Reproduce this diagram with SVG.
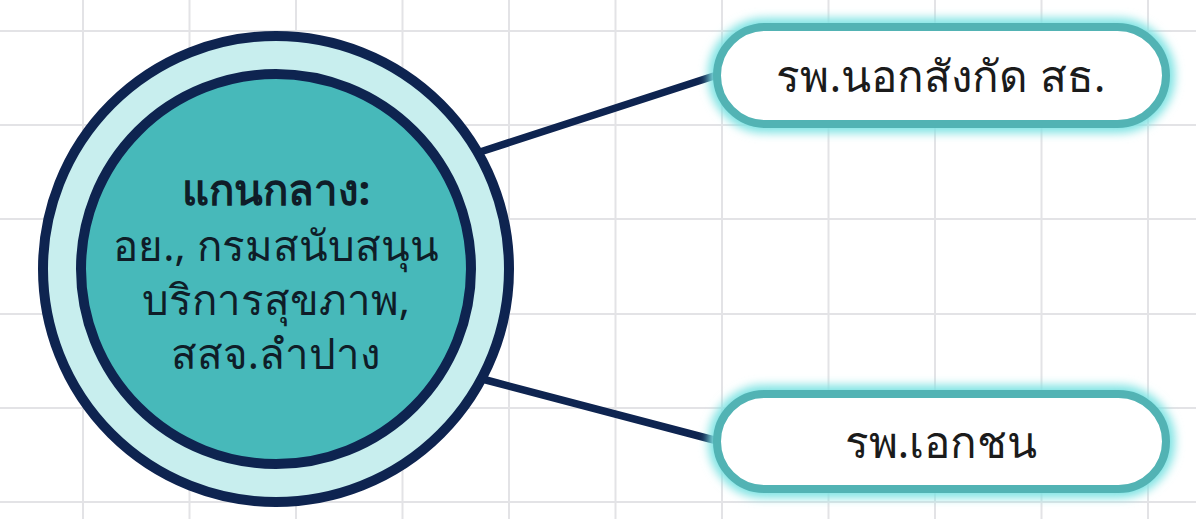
<svg xmlns="http://www.w3.org/2000/svg" width="1196" height="519" viewBox="0 0 1196 519">
  <defs>
    <style>
      .grid line { stroke: #e3e3e6; stroke-width: 2; }
      .conn { stroke: #0e2450; stroke-width: 7.5; stroke-linecap: round; fill: none; }
      .ring { stroke: #0e2450; stroke-width: 10; }
      .pill { fill: #ffffff; stroke: #52b3b4; stroke-width: 8; }
      .glow { fill: none; stroke: #7fe3e3; stroke-width: 18; filter: url(#blur); }
      .t { font-family: "Noto Sans", "DejaVu Sans", sans-serif; text-anchor: middle; }
      .pt { font-size: 44px; fill: #1b1b1b; }
      .ct { font-size: 42px; fill: #0f1d28; }
    </style>
    <filter id="blur" x="-20%" y="-50%" width="140%" height="200%">
      <feGaussianBlur stdDeviation="5"/>
    </filter>
  </defs>
  <rect width="1196" height="519" fill="#ffffff"/>
  <g class="grid">
    <line x1="83" y1="0" x2="83" y2="519"/>
    <line x1="189.5" y1="0" x2="189.5" y2="519"/>
    <line x1="296" y1="0" x2="296" y2="519"/>
    <line x1="402.5" y1="0" x2="402.5" y2="519"/>
    <line x1="509" y1="0" x2="509" y2="519"/>
    <line x1="615.5" y1="0" x2="615.5" y2="519"/>
    <line x1="722" y1="0" x2="722" y2="519"/>
    <line x1="828.5" y1="0" x2="828.5" y2="519"/>
    <line x1="935" y1="0" x2="935" y2="519"/>
    <line x1="1041.5" y1="0" x2="1041.5" y2="519"/>
    <line x1="1148" y1="0" x2="1148" y2="519"/>
    <line x1="0" y1="31" x2="1196" y2="31"/>
    <line x1="0" y1="125" x2="1196" y2="125"/>
    <line x1="0" y1="219" x2="1196" y2="219"/>
    <line x1="0" y1="314" x2="1196" y2="314"/>
    <line x1="0" y1="408" x2="1196" y2="408"/>
    <line x1="0" y1="502" x2="1196" y2="502"/>
  </g>
  <g id="connectors">
    <line class="conn" x1="480" y1="152" x2="714" y2="76"/>
    <line class="conn" x1="486" y1="380" x2="714" y2="440"/>
  </g>
  <g id="center">
    <circle class="ring" cx="276" cy="269" r="233" fill="#c8eeee"/>
    <circle class="ring" cx="276" cy="269" r="195" fill="#47b9ba"/>
    <text class="t ct" x="276" y="205" font-weight="bold">แกนกลาง:</text>
    <text class="t ct" x="276" y="261">อย., กรมสนับสนุน</text>
    <text class="t ct" x="276" y="315">บริการสุขภาพ,</text>
    <text class="t ct" x="276" y="369">สสจ.ลำปาง</text>
  </g>
  <g id="node-outside">
    <rect class="glow" x="717" y="27" width="449" height="97" rx="48.5"/>
    <rect class="pill" x="717" y="27" width="449" height="97" rx="48.5"/>
    <text class="t pt" x="941" y="92">รพ.นอกสังกัด สธ.</text>
  </g>
  <g id="node-private">
    <rect class="glow" x="717" y="394" width="449" height="95" rx="47.5"/>
    <rect class="pill" x="717" y="394" width="449" height="95" rx="47.5"/>
    <text class="t pt" x="941" y="458">รพ.เอกชน</text>
  </g>
</svg>
